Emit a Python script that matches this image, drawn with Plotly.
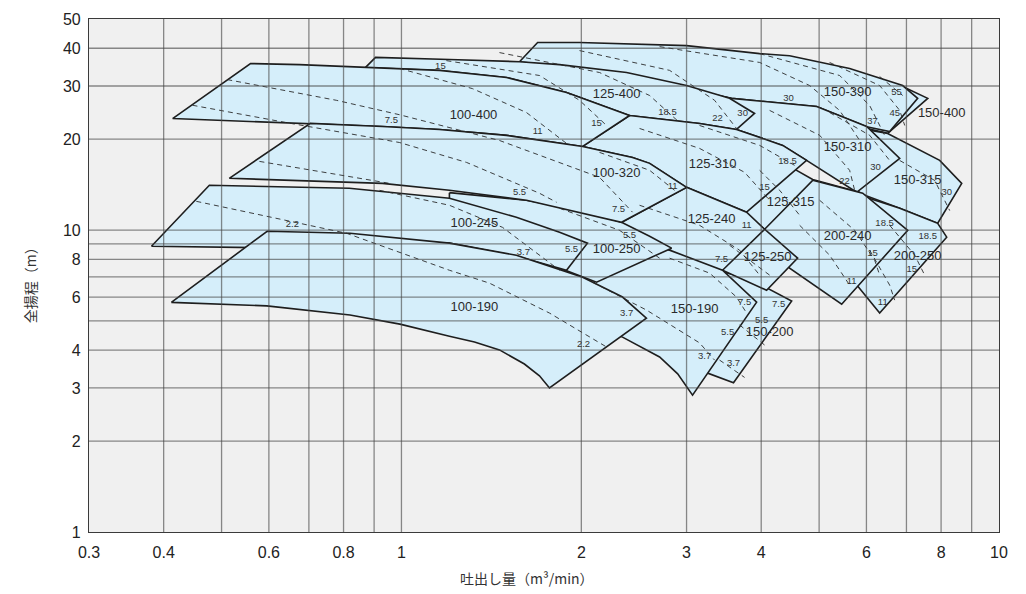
import plotly.graph_objects as go

# ---------------- data (Q in m3/min, H in m) ----------------
Q_100_400 = [0.414, 0.559, 0.675, 0.870, 1.158, 1.499, 1.889, 2.408, 2.01, 1.499, 1.158, 0.929, 0.632]
H_100_400 = [23.4, 35.6, 35.3, 34.5, 33.8, 32.0, 28.55, 23.96, 18.92, 20.58, 21.54, 22.03, 22.72]

Q_125_400 = [0.870, 0.905, 1.203, 1.576, 1.839, 2.381, 3.0, 3.54, 3.899, 3.637, 3.154, 2.408, 1.889, 1.499, 1.158]
H_125_400 = [34.5, 37.3, 36.7, 36.1, 35.3, 33.25, 30.1, 27.3, 24.33, 21.54, 22.55, 23.96, 28.55, 32.0, 33.76]

Q_150_390 = [1.576, 1.690, 1.986, 2.602, 3.0, 3.976, 4.463, 5.624, 6.90, 7.31, 6.562, 6.005, 4.953, 3.568, 2.602, 1.839]
H_150_390 = [36.1, 41.8, 41.8, 41.1, 40.8, 38.4, 37.8, 34.3, 30.1, 27.3, 21.2, 22.0, 25.66, 27.3, 31.27, 34.8]

Q_150_400 = [3.154, 4.639, 6.314, 6.954, 7.599, 6.512, 5.846, 3.154]
H_150_400 = [36.7, 35.9, 31.27, 29.66, 27.3, 20.9, 22.0, 27.9]

Q_150_310 = [3.154, 3.568, 4.953, 6.005, 6.821, 5.778, 4.764, 4.345, 3.637, 3.154]
H_150_310 = [28.55, 27.3, 25.66, 22.03, 17.28, 13.34, 17.01, 19.07, 21.54, 23.07]

Q_150_315 = [5.846, 6.512, 7.957, 8.662, 7.896, 6.821, 5.778]
H_150_315 = [21.71, 20.89, 17.01, 14.28, 10.53, 11.81, 13.34]

Q_125_310 = [2.01, 2.408, 3.154, 3.637, 4.345, 4.764, 3.781, 3.0, 2.602, 2.436]
H_125_310 = [18.92, 23.96, 22.55, 21.54, 19.07, 17.01, 11.46, 13.85, 16.63, 17.4]

Q_100_320 = [0.515, 0.704, 0.929, 1.158, 1.499, 2.01, 2.436, 2.602, 3.0, 2.335, 1.619, 1.203, 0.929]
H_100_320 = [14.84, 22.55, 22.03, 21.54, 20.58, 18.92, 17.4, 16.63, 13.85, 10.61, 12.55, 13.54, 14.28]

Q_125_315 = [3.68, 4.463, 4.877, 5.846, 5.01, 4.053]
H_125_315 = [11.28, 16.25, 14.7, 13.34, 9.98, 10.06]

Q_200_240 = [4.053, 4.877, 5.914, 7.035, 5.454, 4.463]
H_200_240 = [10.06, 14.61, 13.24, 9.98, 5.68, 7.48]

Q_200_250 = [5.846, 6.821, 7.896, 8.175, 6.314, 5.691]
H_200_250 = [13.04, 11.81, 10.53, 9.47, 5.31, 6.83]

Q_125_240 = [3.0, 3.781, 4.053, 3.446, 3.035, 2.81, 2.503, 2.335]
H_125_240 = [13.85, 11.46, 10.06, 7.36, 7.53, 8.58, 9.61, 10.61]

Q_125_250 = [3.035, 3.68, 4.053, 4.603, 4.084, 3.446, 3.035]
H_125_250 = [11.19, 10.78, 10.06, 8.07, 6.32, 7.36, 8.26]

Q_150_200 = [3.154, 3.68, 3.976, 4.498, 3.595, 3.253]
H_150_200 = [7.59, 7.04, 6.62, 5.82, 3.12, 3.36]

Q_150_190 = [2.145, 2.81, 3.446, 3.93, 3.07, 2.899, 2.704, 2.503, 2.344, 2.064]
H_150_190 = [9.61, 8.58, 7.36, 5.77, 2.84, 3.34, 3.80, 4.13, 4.42, 4.85]

Q_100_250 = [1.203, 1.619, 1.986, 2.335, 2.602, 2.832, 2.121, 1.839, 1.557, 1.203]
H_100_250 = [13.3, 12.55, 11.63, 10.61, 9.54, 8.71, 6.72, 7.48, 8.2, 8.98]

Q_100_245 = [0.3816, 0.477, 0.818, 1.203, 1.557, 1.839, 2.048, 1.889, 1.557, 1.203, 0.992, 0.675]
H_100_245 = [8.84, 14.07, 13.75, 12.74, 11.02, 9.83, 9.05, 7.36, 8.2, 9.05, 8.91, 8.71]

Q_100_190 = [0.412, 0.596, 0.82, 1.203, 1.557, 2.01, 2.344, 2.57, 1.769, 1.702, 1.606, 1.459, 1.325,
             1.203, 0.994, 0.82, 0.595]
H_100_190 = [5.76, 9.91, 9.76, 9.05, 8.25, 6.98, 6.0, 5.11, 3.0, 3.29, 3.60, 4.01, 4.26,
             4.45, 4.88, 5.23, 5.61]

# drawing order, back to front
REGIONS = [
    (Q_150_400, H_150_400), (Q_150_390, H_150_390), (Q_150_315, H_150_315),
    (Q_150_310, H_150_310), (Q_125_400, H_125_400), (Q_200_250, H_200_250),
    (Q_125_315, H_125_315), (Q_200_240, H_200_240), (Q_125_310, H_125_310),
    (Q_100_400, H_100_400), (Q_150_200, H_150_200), (Q_125_250, H_125_250),
    (Q_125_240, H_125_240), (Q_150_190, H_150_190), (Q_100_250, H_100_250),
    (Q_100_320, H_100_320), (Q_100_245, H_100_245), (Q_100_190, H_100_190),
]

# motor-power boundary curves (dashed)
DASH_Q = [
    [0.511, 0.778, 0.992, 1.459, 2.145, 2.436],
    [0.447, 0.649, 0.992, 1.285, 1.702, 1.818],
    [0.992, 1.315, 1.619, 1.889],
    [1.189, 1.702, 1.986, 2.204],
    [1.459, 2.145, 2.602, 2.92],
    [1.986, 2.81, 3.342, 3.637],
    [2.704, 3.976, 4.821, 5.411, 5.846],
    [3.976, 5.411, 6.075, 6.435],
    [5.206, 6.314, 6.821, 6.954],
    [6.314, 6.90],
    [2.145, 2.602, 2.865],
    [2.503, 3.154, 3.752, 4.132],
    [3.154, 3.976, 4.549],
    [4.132, 5.01, 5.624, 5.734],
    [5.206, 6.075, 6.562],
    [6.821, 7.805, 8.27],
    [0.5785, 0.955],
    [0.4536, 0.809, 1.203, 1.404, 1.769, 2.204],
    [0.919, 1.203, 1.476, 1.769, 1.839],
    [1.839, 2.317, 2.704],
    [2.503, 3.154, 3.68, 3.976],
    [2.81, 3.279, 3.637, 3.781],
    [2.088, 2.572, 3.154, 3.342],
    [3.68, 4.053],
    [3.407, 3.752],
    [5.01, 5.734, 6.193, 6.314],
    [4.639, 5.206, 5.624],
    [6.562, 7.226, 7.51],
    [6.075, 6.562, 6.69],
    [3.976, 4.295, 4.639],
    [3.54, 4.132],
]
DASH_H = [
    [31.5, 26.9, 24.1, 19.8, 14.95, 11.46],
    [25.9, 22.6, 19.5, 16.75, 13.24, 12.36],
    [34.3, 29.4, 24.5, 19.36],
    [36.4, 32.5, 26.9, 22.2],
    [38.7, 33.25, 27.9, 22.7],
    [39.3, 33.8, 26.9, 21.7],
    [40.5, 35.9, 30.1, 24.9, 19.8],
    [38.4, 32.5, 25.85, 20.6],
    [35.9, 30.1, 24.9, 22.2],
    [32.24, 27.9],
    [18.08, 15.77, 13.54],
    [21.7, 18.64, 15.53, 12.55],
    [22.2, 19.07, 16.38],
    [24.9, 20.6, 15.77, 13.54],
    [24.5, 20.6, 17.0],
    [17.0, 14.6, 11.6],
    [16.88, 14.28],
    [12.45, 9.76, 7.36, 6.67, 5.31, 4.10],
    [13.54, 12.08, 10.21, 7.77, 7.36],
    [11.81, 9.98, 8.07],
    [12.08, 10.37, 8.58, 7.09],
    [8.07, 7.2, 6.0, 5.31],
    [6.72, 5.43, 4.23, 3.71],
    [4.85, 4.16],
    [3.71, 3.25],
    [12.55, 9.98, 7.95, 7.09],
    [10.37, 8.26, 6.57],
    [10.37, 8.26, 7.09],
    [8.58, 6.57, 5.86],
    [15.77, 13.54, 11.19],
    [8.91, 7.09],
]

MODEL_TEXT = ["100-400", "125-400", "150-390", "150-400", "150-310", "125-310", "100-320",
              "150-315", "125-315", "125-240", "100-245", "200-240", "100-250", "125-250",
              "200-250", "150-190", "100-190", "150-200"]
MODEL_Q = [1.32, 2.291, 5.58, 8.02, 5.58, 3.317, 2.291, 7.31, 4.48, 3.304, 1.325, 5.58, 2.291,
           4.1, 7.31, 3.094, 1.325, 4.132]
MODEL_H = [23.96, 28.1, 28.55, 24.33, 18.8, 16.5, 15.41, 14.61, 12.36, 10.78, 10.53, 9.47, 8.58,
           8.07, 8.13, 5.43, 5.51, 4.56]

KW_TEXT = ["7.5", "15", "2.2", "18.5", "15", "11", "11", "5.5", "7.5", "30", "55", "22", "30",
           "45", "37", "18.5", "30", "30", "15", "22", "11", "18.5", "18.5", "15", "7.5", "15",
           "11", "11", "7.5", "7.5", "5.5", "5.5", "3.7", "3.7", "5.5", "3.7", "5.5", "3.7", "2.2"]
KW_Q = [0.962, 1.162, 0.657, 2.788, 2.121, 1.69, 2.843, 1.576, 2.308, 4.445, 6.74, 3.381, 3.724,
        6.69, 6.145, 4.428, 6.216, 8.175, 4.053, 5.515, 3.781, 6.435, 7.599, 6.145, 3.433, 7.143,
        5.668, 6.39, 3.752, 4.278, 4.006, 3.514, 3.217, 3.595, 2.408, 1.6, 1.926, 2.381, 2.017]
KW_H = [23.07, 34.8, 10.45, 24.5, 22.55, 21.21, 13.96, 13.34, 11.72, 27.3, 28.55, 23.42, 24.33,
        24.33, 22.9, 16.88, 16.13, 13.34, 13.85, 14.5, 10.37, 10.53, 9.54, 8.38, 8.01, 7.42,
        6.77, 5.77, 5.77, 5.68, 5.03, 4.56, 3.80, 3.60, 9.61, 8.45, 8.64, 5.27, 4.16]

X_TICKS = [0.3, 0.4, 0.6, 0.8, 1, 2, 3, 4, 6, 8, 10]
X_TICKTEXT = ["0.3", "0.4", "0.6", "0.8", "1", "2", "3", "4", "6", "8", "10"]
Y_TICKS = [1, 2, 3, 4, 6, 8, 10, 20, 30, 40, 50]
Y_TICKTEXT = ["1", "2", "3", "4", "6", "8", "10", "20", "30", "40", "50"]
X_GRID = [0.4, 0.5, 0.6, 0.7, 0.8, 0.9, 1, 2, 3, 4, 5, 6, 7, 8, 9]
Y_GRID = [2, 3, 4, 5, 6, 7, 8, 9, 10, 20, 30, 40]
X_MIN, X_MAX, Y_MIN, Y_MAX = 0.3, 10, 1, 50
X_TITLE = "吐出し量（m³/min）"
Y_TITLE = "全揚程（m）"

# ---------------- figure ----------------
FILL = "#d5eefa"
EDGE = "#1e1e1e"
fig = go.Figure()

for q, h in REGIONS:
    fig.add_trace(go.Scatter(x=q + [q[0]], y=h + [h[0]], mode="lines", fill="toself",
                             fillcolor=FILL, line=dict(color=EDGE, width=1.6),
                             hoverinfo="skip", showlegend=False))

for q, h in zip(DASH_Q, DASH_H):
    fig.add_trace(go.Scatter(x=q, y=h, mode="lines",
                             line=dict(color="#2a2a2a", width=0.9, dash="5px,4px"),
                             hoverinfo="skip", showlegend=False))

gx, gy = [], []
for v in X_GRID:
    gx += [v, v, None]
    gy += [Y_MIN, Y_MAX, None]
for v in Y_GRID:
    gx += [X_MIN, X_MAX, None]
    gy += [v, v, None]
fig.add_trace(go.Scatter(x=gx, y=gy, mode="lines", line=dict(color="rgba(70,70,70,0.62)", width=1.3),
                         hoverinfo="skip", showlegend=False))

fig.add_trace(go.Scatter(x=KW_Q, y=KW_H, mode="text", text=KW_TEXT,
                         textfont=dict(family="Liberation Sans, Arial", size=9.5, color="#333333"),
                         hoverinfo="skip", showlegend=False))
fig.add_trace(go.Scatter(x=MODEL_Q, y=MODEL_H, mode="text", text=MODEL_TEXT,
                         textfont=dict(family="Liberation Sans, Arial", size=13, color="#2a2a2a"),
                         hoverinfo="skip", showlegend=False))

axis_common = dict(type="log", showgrid=False, zeroline=False, showline=True, mirror=True,
                   linecolor="#3a3a3a", linewidth=1.2, ticks="", automargin=False,
                   tickfont=dict(family="Liberation Sans, Arial", size=16, color="#222222"))
fig.update_layout(
    width=1026, height=594,
    margin=dict(l=81, r=35, t=11, b=70),
    paper_bgcolor="white", plot_bgcolor="#f0f0f0",
    xaxis=dict(range=[-0.52288, 1.0], tickvals=X_TICKS, ticktext=X_TICKTEXT, ticklabelstandoff=6,
               **axis_common),
    yaxis=dict(range=[0, 1.69897], tickvals=Y_TICKS, ticktext=Y_TICKTEXT, ticklabelstandoff=4,
               **axis_common),
    annotations=[
        dict(text=X_TITLE, xref="paper", yref="paper", x=0.481, y=0, yanchor="middle",
             yshift=-46, showarrow=False,
             font=dict(family="Noto Sans CJK JP", size=14, color="#333333")),
        dict(text=Y_TITLE, xref="paper", yref="paper", x=0, y=0.487, xanchor="center",
             xshift=-59, textangle=-90, showarrow=False,
             font=dict(family="Noto Sans CJK JP", size=14, color="#333333")),
    ],
)

fig.write_html("out.html")
